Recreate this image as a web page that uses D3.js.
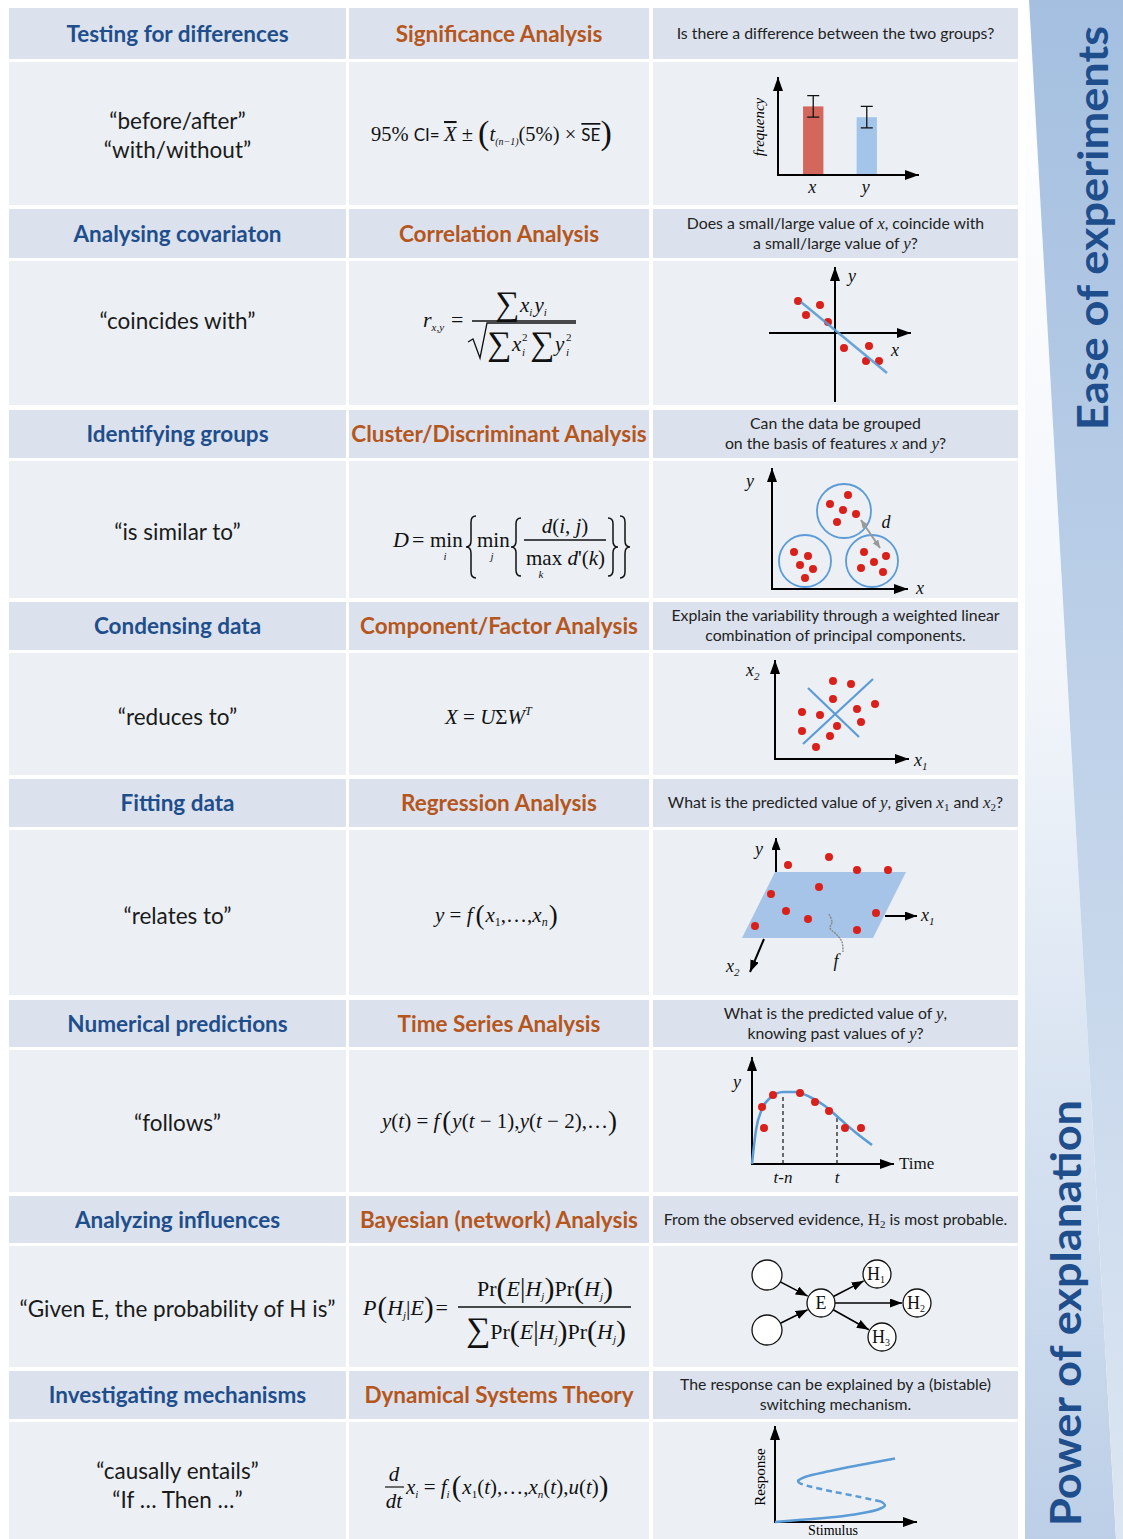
<!DOCTYPE html>
<html><head><meta charset="utf-8">
<script src="https://cdn.jsdelivr.net/npm/d3@7"></script>
<style>body{margin:0;background:#fff} svg{display:block}</style>
</head><body>
<svg id="c" width="1123" height="1539"></svg>
<script>
// ================= DATA =================
const tasks = ["Testing for differences","Analysing covariaton","Identifying groups","Condensing data","Fitting data","Numerical predictions","Analyzing influences","Investigating mechanisms"];
const methods = ["Significance Analysis","Correlation Analysis","Cluster/Discriminant Analysis","Component/Factor Analysis","Regression Analysis","Time Series Analysis","Bayesian (network) Analysis","Dynamical Systems Theory"];
const phrases = [["“before/after”","“with/without”"],["“coincides with”"],["“is similar to”"],["“reduces to”"],["“relates to”"],["“follows”"],["“Given E, the probability of H is”"],["“causally entails”","“If … Then …”"]];
// question lines: segments [text, kind]  kind: undefined=sans, i=italic serif, r=serif, s=subscript
const questions = [
  [[["Is there a difference between the two groups?"]]],
  [[["Does a small/large value of "],["x","i"],[", coincide with"]],[["a small/large value of "],["y","i"],["?"]]],
  [[["Can the data be grouped"]],[["on the basis of features "],["x","i"],[" and "],["y","i"],["?"]]],
  [[["Explain the variability through a weighted linear"]],[["combination of principal components."]]],
  [[["What is the predicted value of "],["y","i"],[", given  "],["x","i"],["1","s"],[" and "],["x","i"],["2","s"],["?"]]],
  [[["What is the predicted value of "],["y","i"],[","]],[["knowing past values of "],["y","i"],["?"]]],
  [[["From the observed evidence, "],["H","r"],["2","s"],[" is most probable."]]],
  [[["The response can be explained by a (bistable)"]],[["switching mechanism."]]]
];
const sideLabels = ["Ease of experiments","Power of explanation"];

// 1. significance bar chart
const barGroups = ["x","y"];
const barValues = [70, 59];
const barErrors = [11, 11];
// 2. correlation
const corrPoints = [[-3.7,3.2],[-1.5,2.8],[-2.9,1.8],[-0.7,1.1],[0.9,-1.5],[3.4,-1.3],[3.1,-2.8],[4.4,-2.8]];
const corrFit = [[-3.4,3.1],[5.2,-4.0]];
// 3. clusters
const clusterCenters = [[7.2,7.8],[3.3,2.8],[10.0,2.8]];
const clusterRadius = [2.7,2.6,2.6];
const clusterPoints = [[7.6,9.4],[5.8,8.5],[7.1,7.9],[8.4,7.5],[6.5,6.7],
                       [2.2,3.7],[3.6,3.3],[2.8,2.4],[4.1,2.0],[3.3,1.1],
                       [9.2,3.7],[11.4,3.3],[10.2,2.7],[8.9,2.1],[11.1,1.7]];
const clusterDistance = [[8.9,6.9],[10.8,4.1]];
// 4. components
const pcaPoints = [[5.8,7.8],[7.6,7.5],[5.8,6.0],[10.0,5.5],[2.7,4.7],[4.5,4.4],[8.2,5.0],[8.6,3.7],[6.2,3.3],[2.7,2.8],[5.5,2.3],[4.1,1.2]];
const pcaAxes = [[[2.8,1.5],[9.8,8.0]],[[3.3,7.1],[8.4,2.2]]];
// 5. regression (oblique projection units)
const regPlane = [[3.3,6.6],[16.4,6.6],[13.1,0],[0,0]];
const regPoints = [[4.6,7.3],[8.7,8.1],[11.5,6.8],[14.6,6.8],[7.7,5.1],[2.9,4.4],[4.4,2.7],[6.6,1.9],[13.4,2.5],[1.3,1.2],[11.5,0.8]];
const regFCurve = [[8.7,2.4],[9.0,1.6],[8.8,1.0],[9.5,0.3],[10.0,-0.4],[10.1,-1.4]];
// 6. time series
const tsCurve = [[0,0],[0.4,3.4],[1.0,5.5],[1.8,6.6],[3.1,7.2],[4.3,7.2],[5.8,6.7],[7.3,5.8],[8.8,4.5],[10.3,3.2],[12.0,1.9]];
const tsPoints = [[1.0,5.7],[1.2,3.6],[2.1,6.9],[4.8,7.1],[6.3,6.2],[7.7,5.3],[9.3,3.6],[10.9,3.6]];
const tsMarks = [{label:"t-n", t:3.1, y:7.0},{label:"t", t:8.5, y:4.6}];
// 7. bayesian network
const bnNodes = [{id:"a",label:"",x:2.7,y:7.5},{id:"b",label:"",x:2.7,y:2.0},{id:"E",label:"E",x:8.1,y:4.7},
                 {id:"H1",label:"H",sub:"1",x:13.7,y:7.6},{id:"H2",label:"H",sub:"2",x:17.7,y:4.7},{id:"H3",label:"H",sub:"3",x:14.2,y:1.3}];
const bnEdges = [["a","E"],["b","E"],["E","H1"],["E","H2"],["E","H3"]];
// 8. bistable switch
const bistLower = [[0,0],[3,0.25],[6,0.5],[8.5,0.85],[10.3,1.25],[11,1.65],[10.6,2.05]];
const bistMiddle = [[10.6,2.05],[8,2.6],[5.5,3.1],[3.5,3.55],[2.5,3.85]];
const bistUpper = [[2.5,3.85],[2.3,4.1],[3.0,4.5],[5.5,5.1],[8.5,5.7],[12.0,6.35]];

// ================= LAYOUT / STYLE =================
const SANS = "Lato, 'Open Sans', sans-serif";
const SERIF = "'Liberation Serif', 'Times New Roman', serif";
const C = {head:"#dbe2ee", body:"#ecf0f5", task:"#1f4e8c", method:"#b5561c", text:"#1a1a1a",
           red:"#d9201a", bar:"#d4675c", barBlue:"#a3c5ea", line:"#5b9bd6", plane:"#a5c4e8"};
const cols = [[9,346],[349,649],[653,1018]];
const rows = [[8,59,205],[209,258,405],[410,458,598],[602,650,775],[779,827,995],[1000,1047,1192],[1196,1243,1367],[1371,1419,1539]];
const phraseY = [[121,150],[321],[532],[717],[916],[1123],[1309],[1471,1500]];

const svg = d3.select("#c");
const defs = svg.append("defs");
function marker(id, color, w, h){
  defs.append("marker").attr("id",id).attr("viewBox",`0 0 ${w} ${h}`).attr("refX",w).attr("refY",h/2)
    .attr("markerWidth",w).attr("markerHeight",h).attr("markerUnits","userSpaceOnUse").attr("orient","auto-start-reverse")
    .append("path").attr("d",`M0,0L${w},${h/2}L0,${h}Z`).attr("fill",color);
}
marker("ah","#000",14,10);
marker("ahs","#000",12,9);
marker("ahg","#999",8,7);

function rich(parent, x, y, parts, o={}){
  const t = parent.append("text").attr("x",x).attr("y",y).attr("text-anchor",o.anchor||"start")
    .style("font-family",o.ff||SERIF).style("font-size",(o.size||20)+"px").attr("fill",o.fill||"#111");
  let shift = 0;
  for (const p of parts){
    const s = typeof p === "string" ? {t:p} : p;
    const target = s.sub ? s.sub : (s.sup ? -s.sup : 0);
    const ts = t.append("tspan").text(s.t);
    if (target !== shift){ ts.attr("dy", target-shift); shift = target; }
    if (s.i) ts.style("font-style","italic");
    if (s.size) ts.style("font-size",s.size+"px");
    if (s.ff) ts.style("font-family",s.ff);
    if (s.dx) ts.attr("dx",s.dx);
    if (s.ol) ts.style("text-decoration","overline");
  }
  return t;
}

// ---------- side panel ----------
const gT = defs.append("linearGradient").attr("id","gT").attr("x1",0).attr("y1",0).attr("x2",0).attr("y2",1);
gT.append("stop").attr("offset","0%").attr("stop-color","#a4bfe0");
gT.append("stop").attr("offset","100%").attr("stop-color","#dce6f2");
const gB = defs.append("linearGradient").attr("id","gB").attr("x1",0).attr("y1",0).attr("x2",0).attr("y2",1);
gB.append("stop").attr("offset","0%").attr("stop-color","#ffffff");
gB.append("stop").attr("offset","45%").attr("stop-color","#f1f5fa");
gB.append("stop").attr("offset","100%").attr("stop-color","#bccfe7");
svg.append("polygon").attr("points","1025,0 1029,0 1116,1539 1025,1539").attr("fill","url(#gB)");
svg.append("polygon").attr("points","1029,0 1123,0 1123,1539 1116,1539").attr("fill","url(#gT)");
svg.append("text").attr("transform","translate(1108,228) rotate(-90)").attr("text-anchor","middle")
  .attr("textLength",404).attr("lengthAdjust","spacingAndGlyphs")
  .style("font-family",SANS).style("font-weight",700).style("font-size","42px").attr("fill",C.task).text(sideLabels[0]);
svg.append("text").attr("transform","translate(1081,1313) rotate(-90)").attr("text-anchor","middle")
  .attr("textLength",426).attr("lengthAdjust","spacingAndGlyphs")
  .style("font-family",SANS).style("font-weight",700).style("font-size","42px").attr("fill",C.task).text(sideLabels[1]);

// ---------- table ----------
rows.forEach((r,i)=>{
  cols.forEach((c,j)=>{
    svg.append("rect").attr("x",c[0]).attr("y",r[0]).attr("width",c[1]-c[0]).attr("height",r[1]-r[0]).attr("fill",C.head);
    svg.append("rect").attr("x",c[0]).attr("y",r[1]+3).attr("width",c[1]-c[0]).attr("height",r[2]-r[1]-3).attr("fill",C.body);
  });
  const hy = (r[0]+r[1])/2;
  svg.append("text").attr("x",(cols[0][0]+cols[0][1])/2).attr("y",hy+8).attr("text-anchor","middle")
    .style("font-family",SANS).style("font-weight",700).style("font-size","22.5px").attr("fill",C.task).text(tasks[i]);
  svg.append("text").attr("x",(cols[1][0]+cols[1][1])/2).attr("y",hy+8).attr("text-anchor","middle")
    .style("font-family",SANS).style("font-weight",700).style("font-size","22.5px").attr("fill",C.method).text(methods[i]);
  const q = questions[i];
  q.forEach((line,k)=>{
    const y = hy + 5 + (q.length===2 ? (k===0?-10:10) : 0);
    const parts = line.map(([t,kind])=>{
      if (kind==="i") return {t, i:true, ff:SERIF, size:17};
      if (kind==="r") return {t, ff:SERIF, size:17};
      if (kind==="s") return {t, ff:SERIF, size:11, sub:3};
      return {t};
    });
    rich(svg, (cols[2][0]+cols[2][1])/2, y, parts, {anchor:"middle", ff:SANS, size:15.8, fill:"#222"});
  });
  phrases[i].forEach((p,k)=>{
    svg.append("text").attr("x",(cols[0][0]+cols[0][1])/2).attr("y",phraseY[i][k]+8).attr("text-anchor","middle")
      .style("font-family",SANS).style("font-size","22.5px").attr("fill",C.text).text(p);
  });
});

// ---------- formulas ----------
const F = svg.append("g").attr("fill","#111");
// 1
rich(F, 371, 141, [{t:"95% "},{t:"CI= ",ff:SANS,size:17},{t:"X",i:true,ol:true},{t:" ± "},{t:"(",size:34,sub:3},
  {t:"t",i:true},{t:"(n−1)",i:true,size:10,sub:4},{t:"(5%) × "},{t:"SE",ff:SANS,size:17,ol:true},{t:")",size:34,sub:3}], {size:20.5});
// 2 correlation
rich(F, 423, 327, [{t:"r",i:true},{t:"x,y",i:true,size:11,sub:4}], {size:22});
F.append("text").attr("x",451).attr("y",327).style("font-family",SERIF).style("font-size","22px").text("=");
F.append("text").attr("x",495).attr("y",315).style("font-family",SERIF).style("font-size","34px").text("∑");
rich(F, 520, 312, [{t:"x",i:true},{t:"i",i:true,size:11,sub:4},{t:"y",i:true,dx:2},{t:"i",i:true,size:11,sub:4}], {size:21});
F.append("line").attr("x1",472).attr("x2",576).attr("y1",321).attr("y2",321).attr("stroke","#111").attr("stroke-width",1.3);
F.append("path").attr("d","M468,342L473,339L480,358L487,323L576,323").attr("fill","none").attr("stroke","#111").attr("stroke-width",1.3);
F.append("text").attr("x",487).attr("y",355).style("font-family",SERIF).style("font-size","34px").text("∑");
F.append("text").attr("x",512).attr("y",351).style("font-family",SERIF).style("font-style","italic").style("font-size","21px").text("x");
F.append("text").attr("x",522).attr("y",341).style("font-family",SERIF).style("font-size","11px").text("2");
F.append("text").attr("x",522).attr("y",356).style("font-family",SERIF).style("font-style","italic").style("font-size","11px").text("i");
F.append("text").attr("x",530).attr("y",355).style("font-family",SERIF).style("font-size","34px").text("∑");
F.append("text").attr("x",555).attr("y",351).style("font-family",SERIF).style("font-style","italic").style("font-size","21px").text("y");
F.append("text").attr("x",566).attr("y",341).style("font-family",SERIF).style("font-size","11px").text("2");
F.append("text").attr("x",566).attr("y",356).style("font-family",SERIF).style("font-style","italic").style("font-size","11px").text("i");
// 3 cluster
function brace(x, y0, y1, w, left){
  const m=(y0+y1)/2, h=y1-y0, a=left?x+w:x, b=x+w/2, c=left?x:x+w;
  return `M${a},${y0}Q${b},${y0} ${b},${y0+h*0.1}L${b},${m-h*0.1}Q${b},${m} ${c},${m}Q${b},${m} ${b},${m+h*0.1}L${b},${y1-h*0.1}Q${b},${y1} ${a},${y1}`;
}
F.append("text").attr("x",393).attr("y",547).style("font-family",SERIF).style("font-style","italic").style("font-size","22px").text("D");
F.append("text").attr("x",412).attr("y",547).style("font-family",SERIF).style("font-size","22px").text("=");
F.append("text").attr("x",430).attr("y",547).style("font-family",SERIF).style("font-size","21px").text("min");
F.append("text").attr("x",445).attr("y",560).attr("text-anchor","middle").style("font-family",SERIF).style("font-style","italic").style("font-size","11px").text("i");
F.append("path").attr("d",brace(466,516,578,10,true)).attr("fill","none").attr("stroke","#111").attr("stroke-width",1.5);
F.append("text").attr("x",477).attr("y",547).style("font-family",SERIF).style("font-size","21px").text("min");
F.append("text").attr("x",492).attr("y",560).attr("text-anchor","middle").style("font-family",SERIF).style("font-style","italic").style("font-size","11px").text("j");
F.append("path").attr("d",brace(511,518,576,10,true)).attr("fill","none").attr("stroke","#111").attr("stroke-width",1.5);
rich(F, 565, 533, [{t:"d",i:true},{t:"("},{t:"i",i:true},{t:", "},{t:"j",i:true},{t:")"}], {size:21, anchor:"middle"});
F.append("line").attr("x1",524).attr("x2",606).attr("y1",540).attr("y2",540).attr("stroke","#111").attr("stroke-width",1.3);
rich(F, 526, 565, [{t:"max "},{t:"d",i:true},{t:"'("},{t:"k",i:true},{t:")"}], {size:21});
F.append("text").attr("x",541).attr("y",578).attr("text-anchor","middle").style("font-family",SERIF).style("font-style","italic").style("font-size","11px").text("k");
F.append("path").attr("d",brace(608,518,576,10,false)).attr("fill","none").attr("stroke","#111").attr("stroke-width",1.5);
F.append("path").attr("d",brace(620,516,578,10,false)).attr("fill","none").attr("stroke","#111").attr("stroke-width",1.5);
// 4
rich(F, 445, 724, [{t:"X",i:true},{t:" = "},{t:"U",i:true},{t:"Σ"},{t:"W",i:true},{t:"T",i:true,size:12,sup:9}], {size:21});
// 5
rich(F, 435, 922, [{t:"y",i:true},{t:" = "},{t:"f",i:true},{t:"(",size:27,sub:2,dx:3},{t:"x",i:true,dx:1},{t:"1",size:12,sub:4},{t:",…,"},{t:"x",i:true},{t:"n",i:true,size:12,sub:4},{t:")",size:27,sub:2,dx:1}], {size:21});
// 6
rich(F, 382, 1128, [{t:"y",i:true},{t:"("},{t:"t",i:true},{t:") = "},{t:"f",i:true},{t:"(",size:27,sub:2,dx:3},{t:"y",i:true,dx:1},{t:"("},{t:"t",i:true},{t:" − 1),"},{t:"y",i:true},{t:"("},{t:"t",i:true},{t:" − 2),…"},{t:")",size:27,sub:2}], {size:21});
// 7
rich(F, 363, 1315, [{t:"P",i:true},{t:"(",size:29,sub:2,dx:1},{t:"H",i:true},{t:"j",i:true,size:11,sub:4},{t:"|"},{t:"E",i:true},{t:")",size:29,sub:2},{t:"=",dx:2}], {size:22});
const prParts = [{t:"Pr"},{t:"(",size:30,sub:2},{t:"E",i:true},{t:"|",size:27,sub:1},{t:"H",i:true},{t:"j",i:true,size:11,sub:4},{t:")",size:30,sub:2},{t:"Pr"},{t:"(",size:30,sub:2},{t:"H",i:true},{t:"j",i:true,size:11,sub:4},{t:")",size:30,sub:2}];
rich(F, 545, 1296, prParts, {size:22, anchor:"middle"});
F.append("line").attr("x1",458).attr("x2",631).attr("y1",1307).attr("y2",1307).attr("stroke","#111").attr("stroke-width",1.3);
rich(F, 546, 1339, [{t:"∑",size:34,sub:2}].concat(prParts), {size:22, anchor:"middle"});
// 8
F.append("text").attr("x",394).attr("y",1481).attr("text-anchor","middle").style("font-family",SERIF).style("font-style","italic").style("font-size","21px").text("d");
F.append("line").attr("x1",385).attr("x2",404).attr("y1",1487).attr("y2",1487).attr("stroke","#111").attr("stroke-width",1.2);
F.append("text").attr("x",394).attr("y",1508).attr("text-anchor","middle").style("font-family",SERIF).style("font-style","italic").style("font-size","21px").text("dt");
rich(F, 406, 1494, [{t:"x",i:true},{t:"i",i:true,size:11,sub:4},{t:" = "},{t:"f",i:true},{t:"i",i:true,size:11,sub:4},{t:"(",size:29,sub:2,dx:2},
  {t:"x",i:true,dx:1},{t:"1",size:11,sub:4},{t:"("},{t:"t",i:true},{t:"),…,"},{t:"x",i:true},{t:"n",i:true,size:11,sub:4},{t:"("},{t:"t",i:true},{t:"),"},{t:"u",i:true},{t:"("},{t:"t",i:true},{t:")"},{t:")",size:29,sub:2}], {size:21});

// ---------- mini charts ----------
function unitScales(ox, oy, k=10){
  return [d3.scaleLinear().domain([0,1]).range([ox,ox+k]), d3.scaleLinear().domain([0,1]).range([oy,oy-k])];
}
function arrowLine(g, x1,y1,x2,y2, m="ah", w=2, col="#000"){
  return g.append("line").attr("x1",x1).attr("y1",y1).attr("x2",x2).attr("y2",y2).attr("stroke",col).attr("stroke-width",w).attr("marker-end",`url(#${m})`);
}
function lbl(g, x, y, t, o={}){
  return rich(g, x, y, Array.isArray(t)?t:[{t, i:o.i!==false}], {size:o.size||18, anchor:o.anchor||"middle"});
}

// 1. bar chart
{
  const g = svg.append("g");
  const x = d3.scaleBand().domain(barGroups).range([787,893]).paddingInner(0.62).paddingOuter(0.3);
  const y = d3.scaleLinear().domain([0,100]).range([175,77]);
  g.selectAll("rect.b").data(barGroups).join("rect").attr("x",d=>x(d)).attr("width",x.bandwidth())
    .attr("y",(d,i)=>y(barValues[i])).attr("height",(d,i)=>y(0)-y(barValues[i])).attr("fill",(d,i)=>i?C.barBlue:C.bar);
  barGroups.forEach((d,i)=>{
    const cx = x(d)+x.bandwidth()/2, lo=y(barValues[i]-barErrors[i]), hi=y(barValues[i]+barErrors[i]);
    g.append("path").attr("d",`M${cx},${lo}V${hi}M${cx-6},${lo}H${cx+6}M${cx-6},${hi}H${cx+6}`).attr("stroke","#111").attr("stroke-width",1.3).attr("fill","none");
    lbl(g, cx-1, 193, d, {size:18});
  });
  arrowLine(g, 778, y(0)+1, 778, y(100));
  arrowLine(g, 777, y(0), 919, y(0));
  g.append("text").attr("transform","translate(764,127) rotate(-90)").attr("text-anchor","middle")
    .style("font-family",SERIF).style("font-style","italic").style("font-size","15px").text("frequency");
}
// 2. correlation
{
  const g = svg.append("g");
  const [x,y] = unitScales(835,333);
  arrowLine(g, x(0), y(-6.9), x(0), y(6.6));
  arrowLine(g, x(-6.6), y(0), x(7.6), y(0));
  g.selectAll("circle").data(corrPoints).join("circle").attr("cx",d=>x(d[0])).attr("cy",d=>y(d[1])).attr("r",4).attr("fill",C.red);
  g.append("line").attr("x1",x(corrFit[0][0])).attr("y1",y(corrFit[0][1])).attr("x2",x(corrFit[1][0])).attr("y2",y(corrFit[1][1]))
    .attr("stroke",C.line).attr("stroke-width",2.5).attr("stroke-opacity",0.9);
  lbl(g, 852, 282, "y");
  lbl(g, 895, 356, "x");
}
// 3. clusters
{
  const g = svg.append("g");
  const [x,y] = unitScales(772,589);
  arrowLine(g, x(0), y(0)+1, x(0), y(12.1));
  arrowLine(g, x(0)-1, y(0), x(13.6), y(0));
  g.selectAll("circle.c").data(clusterCenters).join("circle").attr("cx",d=>x(d[0])).attr("cy",d=>y(d[1]))
    .attr("r",(d,i)=>x(clusterRadius[i])-x(0)).attr("fill","none").attr("stroke",C.line).attr("stroke-width",1.8);
  g.selectAll("circle.p").data(clusterPoints).join("circle").attr("cx",d=>x(d[0])).attr("cy",d=>y(d[1])).attr("r",4).attr("fill",C.red);
  g.append("line").attr("x1",x(clusterDistance[0][0])).attr("y1",y(clusterDistance[0][1])).attr("x2",x(clusterDistance[1][0])).attr("y2",y(clusterDistance[1][1]))
    .attr("stroke","#999").attr("stroke-width",2).attr("marker-start","url(#ahg)").attr("marker-end","url(#ahg)");
  lbl(g, 886, 528, "d");
  lbl(g, 750, 487, "y");
  lbl(g, 920, 594, "x");
}
// 4. components
{
  const g = svg.append("g");
  const [x,y] = unitScales(775,759);
  arrowLine(g, x(0), y(0)+1, x(0), y(9.9));
  arrowLine(g, x(0)-1, y(0), x(13.4), y(0));
  g.selectAll("circle").data(pcaPoints).join("circle").attr("cx",d=>x(d[0])).attr("cy",d=>y(d[1])).attr("r",4).attr("fill",C.red);
  pcaAxes.forEach(a=>g.append("line").attr("x1",x(a[0][0])).attr("y1",y(a[0][1])).attr("x2",x(a[1][0])).attr("y2",y(a[1][1])).attr("stroke",C.line).attr("stroke-width",2.2));
  lbl(g, 746, 676, [{t:"x",i:true},{t:"2",i:true,size:11,sub:4}], {anchor:"start"});
  lbl(g, 914, 766, [{t:"x",i:true},{t:"1",i:true,size:11,sub:4}], {anchor:"start"});
}
// 5. regression
{
  const g = svg.append("g");
  const [x,y] = unitScales(742,938);
  arrowLine(g, x(3.4), y(6.6), x(3.4), y(10.0), "ahs");
  g.append("polygon").attr("points",regPlane.map(d=>[x(d[0]),y(d[1])].join(",")).join(" ")).attr("fill",C.plane);
  g.selectAll("circle").data(regPoints).join("circle").attr("cx",d=>x(d[0])).attr("cy",d=>y(d[1])).attr("r",4).attr("fill",C.red);
  arrowLine(g, x(14.3), y(2.2), x(17.5), y(2.2), "ahs");
  arrowLine(g, x(2.2), y(-0.1), x(0.8), y(-3.4), "ahs");
  g.append("path").attr("d",d3.line().x(d=>x(d[0])).y(d=>y(d[1])).curve(d3.curveCatmullRom)(regFCurve))
    .attr("fill","none").attr("stroke","#888").attr("stroke-width",1.4).attr("stroke-dasharray","2,1");
  lbl(g, 759, 855, "y");
  lbl(g, 921, 921, [{t:"x",i:true},{t:"1",i:true,size:11,sub:4}], {anchor:"start"});
  lbl(g, 726, 972, [{t:"x",i:true},{t:"2",i:true,size:11,sub:4}], {anchor:"start"});
  lbl(g, 836, 967, "f");
}
// 6. time series
{
  const g = svg.append("g");
  const [x,y] = unitScales(752,1164);
  arrowLine(g, x(0), y(0)+1, x(0), y(10.7));
  arrowLine(g, x(0)-1, y(0), x(14.2), y(0));
  tsMarks.forEach(m=>{
    g.append("line").attr("x1",x(m.t)).attr("x2",x(m.t)).attr("y1",y(0)).attr("y2",y(m.y)).attr("stroke","#111").attr("stroke-width",1.2).attr("stroke-dasharray","4,3");
    lbl(g, x(m.t), 1183, m.label, {size:17});
  });
  g.append("path").attr("d",d3.line().x(d=>x(d[0])).y(d=>y(d[1])).curve(d3.curveMonotoneX)(tsCurve))
    .attr("fill","none").attr("stroke",C.line).attr("stroke-width",2.5);
  g.selectAll("circle").data(tsPoints).join("circle").attr("cx",d=>x(d[0])).attr("cy",d=>y(d[1])).attr("r",4).attr("fill",C.red);
  lbl(g, 737, 1088, "y");
  lbl(g, 899, 1169, [{t:"Time"}], {anchor:"start", size:17});
}
// 7. bayesian network
{
  const g = svg.append("g");
  const [x,y] = unitScales(740,1350);
  const byId = Object.fromEntries(bnNodes.map(n=>[n.id,n]));
  const rad = n => n.label ? 14 : 15;
  bnEdges.forEach(([a,b])=>{
    const A=byId[a], B=byId[b];
    const x1=x(A.x), y1=y(A.y), x2=x(B.x), y2=y(B.y);
    const L=Math.hypot(x2-x1,y2-y1), ux=(x2-x1)/L, uy=(y2-y1)/L;
    g.append("line").attr("x1",x1+ux*rad(A)).attr("y1",y1+uy*rad(A)).attr("x2",x2-ux*(rad(B)+1)).attr("y2",y2-uy*(rad(B)+1))
      .attr("stroke","#000").attr("stroke-width",1.6).attr("marker-end","url(#ahs)");
  });
  const ng = g.selectAll("g.n").data(bnNodes).join("g").attr("transform",d=>`translate(${x(d.x)},${y(d.y)})`);
  ng.append("circle").attr("r",d=>rad(d)).attr("fill","#fff").attr("stroke","#111").attr("stroke-width",1.3);
  ng.each(function(d){
    if (!d.label) return;
    const parts=[{t:d.label}]; if (d.sub) parts.push({t:d.sub,size:10,sub:3});
    rich(d3.select(this), d.sub?-1:0, 6, parts, {size:18, anchor:"middle"});
  });
}
// 8. bistable
{
  const g = svg.append("g");
  const [x,y] = unitScales(775,1522);
  arrowLine(g, x(0), y(0)+1, x(0), y(9.6));
  arrowLine(g, x(0)-1, y(0), x(14.2), y(0));
  const ln = d3.line().x(d=>x(d[0])).y(d=>y(d[1])).curve(d3.curveCatmullRom);
  g.append("path").attr("d",ln(bistLower)).attr("fill","none").attr("stroke",C.line).attr("stroke-width",2.5);
  g.append("path").attr("d",ln(bistMiddle)).attr("fill","none").attr("stroke",C.line).attr("stroke-width",2.5).attr("stroke-dasharray","6,4");
  g.append("path").attr("d",ln(bistUpper)).attr("fill","none").attr("stroke",C.line).attr("stroke-width",2.5);
  g.append("text").attr("transform","translate(765,1477) rotate(-90)").attr("text-anchor","middle")
    .style("font-family",SERIF).style("font-size","15px").text("Response");
  g.append("text").attr("x",833).attr("y",1535).attr("text-anchor","middle").style("font-family",SERIF).style("font-size","14px").text("Stimulus");
}
</script>
</body></html>
